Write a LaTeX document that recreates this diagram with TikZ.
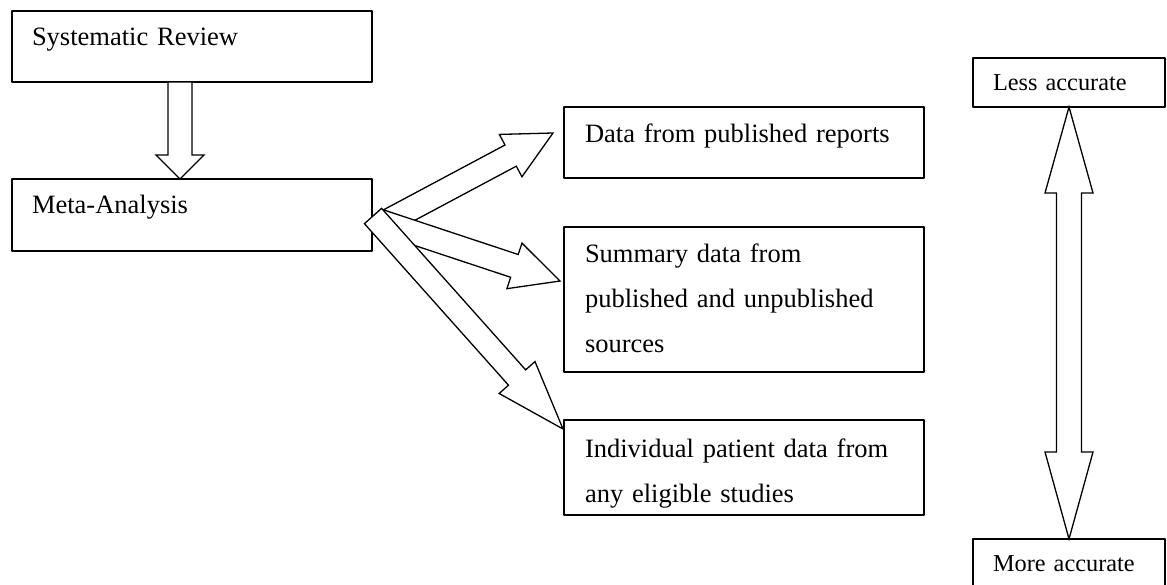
\documentclass[tikz,border=0pt]{standalone}
\usepackage{fontspec}
\setmainfont{Liberation Serif}
\usetikzlibrary{calc}

\tikzset{
  box/.style={draw, line width=1.7pt, anchor=north west, inner xsep=21pt, inner ysep=0pt,
    outer sep=0pt, align=left, text width=318pt, font=\fontsize{26.5}{45}\selectfont},
  smallbox/.style={box, inner xsep=20pt, text width=152pt, font=\fontsize{24.3}{30}\selectfont},
  arrowbody/.style={draw, fill=white, line width=1.3pt, line join=miter}
}

% block arrow: tail, tip, shaft half width, head half width, head length
\newcommand{\blockarrow}[5]{%
  \coordinate (ba-h) at ($(#2)!#5!(#1)$);
  \draw[arrowbody] ($(#1)!#3!90:(#2)$) -- ($(ba-h)!#3!-90:(#1)$) -- ($(ba-h)!#4!-90:(#1)$)
    -- (#2) -- ($(ba-h)!#4!90:(#1)$) -- ($(ba-h)!#3!90:(#1)$) -- ($(#1)!#3!-90:(#2)$) -- cycle;
}

\begin{document}
\begin{tikzpicture}[x=1pt, y=-1pt, line cap=round, line join=round]

\useasboundingbox (0,0) rectangle (1167,584);

% Left column
\node[box, inner xsep=20pt, text width=320pt, text height=34pt, text depth=37pt] (sysrev) at (12,11) {Systematic Review};
\node[box, inner xsep=20pt, text width=320pt, text height=34pt, text depth=38pt] (meta) at (12,179) {Meta-Analysis};

% Data sources
\node[box, text height=35pt, text depth=36pt] (data) at (564,107) {Data from published reports};
\node[box, text height=35pt, text depth=110pt] (summary) at (564,227) {Summary data from\\published and unpublished\\sources};
\node[box, text height=37pt, text depth=58pt] (indiv) at (564,420) {Individual patient data from\\any eligible studies};

% Accuracy scale
\node[smallbox, text height=32pt, text depth=17pt] (less) at (973,58) {Less accurate};
\node[smallbox, text height=32pt, text depth=20pt] (more) at (973,539) {More accurate};

% Arrow ends
\coordinate (sr-tail) at ($(sysrev.south west)+(168,0)$);
\coordinate (ma-tip) at ($(meta.north west)+(168,0)$);
\coordinate (tail1) at ($(meta.east)+(17,5.5)$);
\coordinate (tail2) at ($(meta.east)+(7,6)$);
\coordinate (tail3) at ($(meta.east)+(1,1)$);
\coordinate (tip1) at ($(data.west)+(-11,-9.5)$);
\coordinate (tip2) at ($(summary.west)+(-4,-18.5)$);
\coordinate (tip3) at ($(indiv.north west)+(-1,9)$);

% Block arrows
\blockarrow{sr-tail}{ma-tip}{12pt}{24pt}{24pt}
\blockarrow{tail1}{tip1}{12pt}{24pt}{48pt}
\blockarrow{tail2}{tip2}{12pt}{24pt}{48pt}
\blockarrow{tail3}{tip3}{11.5pt}{24pt}{69pt}

% Double arrow between less and more accurate
\coordinate (dh1) at ($(less.south)+(0,86)$);
\coordinate (dh2) at ($(more.north)+(0,-87)$);
\draw[arrowbody] (less.south) -- ($(dh1)+(24,0)$) -- ($(dh1)+(12.5,0)$) -- ($(dh2)+(12.5,0)$)
  -- ($(dh2)+(24,0)$) -- (more.north) -- ($(dh2)+(-24,0)$) -- ($(dh2)+(-12.5,0)$)
  -- ($(dh1)+(-12.5,0)$) -- ($(dh1)+(-24,0)$) -- cycle;

\end{tikzpicture}
\end{document}
